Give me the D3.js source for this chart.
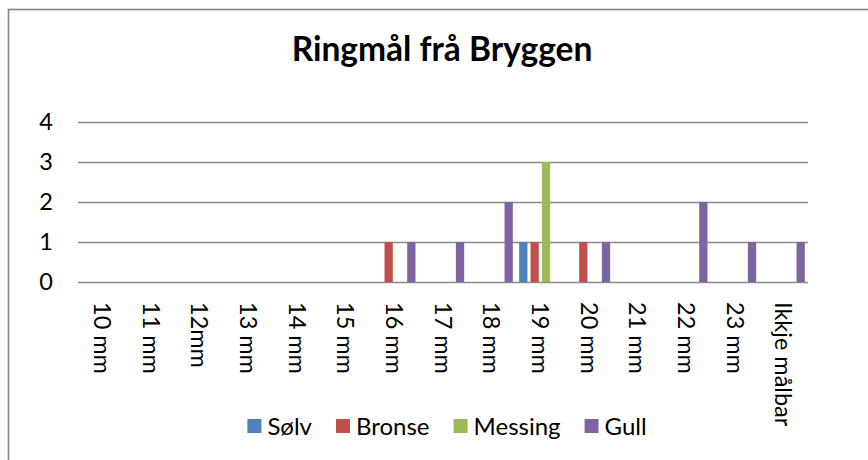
<!DOCTYPE html>
<html>
<head>
<meta charset="utf-8">
<script src="https://cdn.jsdelivr.net/npm/d3@7/dist/d3.min.js"></script>
<style>
  html, body { margin: 0; padding: 0; background: #fff; }
  svg { display: block; font-family: Lato, "Open Sans", sans-serif; }
</style>
</head>
<body>
<svg id="chart" width="868" height="460"></svg>
<script>
const title = "Ringmål frå Bryggen";
const categories = ["10 mm", "11 mm", "12mm", "13 mm", "14 mm", "15 mm", "16 mm", "17 mm", "18 mm", "19 mm", "20 mm", "21 mm", "22 mm", "23 mm", "Ikkje målbar"];
const seriesNames = ["Sølv", "Bronse", "Messing", "Gull"];
const seriesColors = ["#4F81BD", "#C0504D", "#9BBB59", "#8064A2"];
const solv    = [0, 0, 0, 0, 0, 0, 0, 0, 0, 1, 0, 0, 0, 0, 0];
const bronse  = [0, 0, 0, 0, 0, 0, 1, 0, 0, 1, 1, 0, 0, 0, 0];
const messing = [0, 0, 0, 0, 0, 0, 0, 0, 0, 3, 0, 0, 0, 0, 0];
const gull    = [0, 0, 0, 0, 0, 0, 1, 1, 2, 0, 1, 0, 2, 1, 1];
const yTicks = [0, 1, 2, 3, 4];

const seriesValues = [solv, bronse, messing, gull];

const svg = d3.select("#chart");
const plot = {left: 78, right: 808, top: 122, bottom: 282};
const gridColor = "#8a8a8a";

// outer chart frame (extends past the right/bottom edges)
svg.append("rect")
  .attr("x", 8.5).attr("y", 9.5)
  .attr("width", 1000).attr("height", 1000)
  .attr("fill", "none").attr("stroke", "#868686").attr("stroke-width", 1.6);

const x0 = d3.scaleBand().domain(categories).range([plot.left, plot.right]).paddingInner(0).paddingOuter(0);
const x1 = d3.scaleBand().domain(seriesNames).range([0, x0.bandwidth()]).paddingInner(0.27).paddingOuter(0.28);
const y = d3.scaleLinear().domain([0, 4]).range([plot.bottom, plot.top]);
const color = d3.scaleOrdinal().domain(seriesNames).range(seriesColors);

// title
svg.append("text")
  .attr("x", 442).attr("y", 61)
  .attr("text-anchor", "middle")
  .attr("font-weight", "bold")
  .attr("font-size", 33.5)
  .attr("fill", "#000")
  .text(title);

// gridlines
svg.append("g").selectAll("line").data(yTicks).join("line")
  .attr("x1", plot.left).attr("x2", plot.right)
  .attr("y1", d => Math.round(y(d)) + 0.5).attr("y2", d => Math.round(y(d)) + 0.5)
  .attr("stroke", gridColor).attr("stroke-width", 1.6);

// y axis labels
svg.append("g").selectAll("text").data(yTicks).join("text")
  .attr("x", 53).attr("y", d => y(d))
  .attr("dy", "0.36em")
  .attr("text-anchor", "end")
  .attr("font-size", 23.5)
  .attr("fill", "#000")
  .text(d => d);

// bars
const groups = svg.append("g").selectAll("g").data(categories).join("g")
  .attr("transform", d => `translate(${x0(d)},0)`);
groups.selectAll("rect")
  .data((c, i) => seriesNames.map((s, k) => ({s, v: seriesValues[k][i]})))
  .join("rect")
  .filter(d => d.v > 0)
  .attr("x", d => x1(d.s))
  .attr("width", x1.bandwidth())
  .attr("y", d => y(d.v))
  .attr("height", d => y(0) - y(d.v))
  .attr("fill", d => color(d.s));

// x axis labels, rotated
svg.append("g").selectAll("text").data(categories).join("text")
  .attr("transform", d => `translate(${x0(d) + x0.bandwidth() / 2},302) rotate(90)`)
  .attr("dy", "0.35em")
  .attr("text-anchor", "start")
  .attr("font-size", 23.5)
  .attr("fill", "#000")
  .text(d => d);

// legend
const legend = svg.append("g");
let lx = 0;
const sq = 14, gapText = 6, gapItem = 24;
seriesNames.forEach((s, k) => {
  const g = legend.append("g").attr("transform", `translate(${lx},0)`);
  g.append("rect").attr("x", 0).attr("y", -sq / 2).attr("width", sq).attr("height", sq).attr("fill", color(s));
  const t = g.append("text").attr("x", sq + gapText).attr("y", 0).attr("dy", "0.36em")
    .attr("font-size", 24).attr("fill", "#000").text(s);
  lx += sq + gapText + t.node().getComputedTextLength() + gapItem;
});
const legendWidth = lx - gapItem;
legend.attr("transform", `translate(${447 - legendWidth / 2},426)`);
</script>
</body>
</html>
